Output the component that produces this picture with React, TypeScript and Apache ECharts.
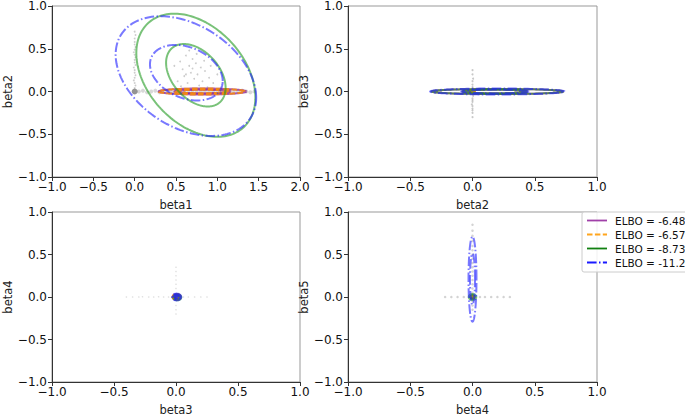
import React, { useEffect, useRef } from "react";
import * as echarts from "echarts";

// ---- data ----
const MODEL_LABELS = ["ELBO = -6.48", "ELBO = -6.57", "ELBO = -8.73", "ELBO = -11.2"];
const X_NAMES = ["beta1", "beta2", "beta3", "beta4"];
const Y_NAMES = ["beta2", "beta3", "beta4", "beta5"];
const X_MIN = [-1, -1, -1, -1];
const X_MAX = [2, 1, 1, 1];
const Y_MIN = -1;
const Y_MAX = 1;
const TICK_STEP = 0.5;

// contour ellipses: [panel, centerX, centerY, halfWidthX, halfWidthY, correlation]
const purpleEllipses = [
  [0, 0.82, 0.0, 0.53, 0.035, 0],
  [0, 0.82, 0.0, 0.34, 0.02, 0],
  [1, 0.2, 0.0, 0.53, 0.03, 0],
  [1, 0.18, 0.0, 0.26, 0.02, 0],
  [2, 0.005, 0.0, 0.032, 0.035, 0],
  [2, 0.005, 0.0, 0.016, 0.018, 0],
  [3, 0.0, 0.0, 0.015, 0.015, 0],
];
const orangeEllipses = [
  [0, 0.81, 0.0, 0.52, 0.035, 0],
  [0, 0.81, 0.0, 0.33, 0.02, 0],
  [1, 0.0, 0.0, 0.02, 0.015, 0],
  [2, 0.005, 0.0, 0.032, 0.035, 0],
  [2, 0.005, 0.0, 0.016, 0.018, 0],
  [3, 0.0, 0.0, 0.015, 0.015, 0],
];
const greenEllipses = [
  [0, 0.74, 0.19, 0.72, 0.72, -0.36],
  [0, 0.74, 0.19, 0.36, 0.365, -0.4],
  [1, 0.2, 0.0, 0.53, 0.03, 0],
  [1, 0.18, 0.0, 0.26, 0.02, 0],
  [2, 0.01, -0.004, 0.032, 0.035, 0],
  [2, 0.01, -0.004, 0.016, 0.018, 0],
  [3, 0.0, 0.0, 0.03, 0.035, 0],
  [3, 0.0, 0.0, 0.015, 0.018, 0],
];
const blueEllipses = [
  [0, 0.62, 0.18, 0.85, 0.7, -0.36],
  [0, 0.625, 0.22, 0.44, 0.325, -0.3],
  [1, 0.2, 0.0, 0.54, 0.035, 0],
  [1, 0.18, 0.0, 0.27, 0.022, 0],
  [2, 0.005, 0.0, 0.037, 0.04, 0],
  [2, 0.005, 0.0, 0.027, 0.029, 0],
  [2, 0.005, 0.0, 0.016, 0.018, 0],
  [2, 0.005, 0.0, 0.007, 0.008, 0],
  [3, 0.0, 0.21, 0.032, 0.5, 0],
  [3, 0.0, 0.21, 0.02, 0.3, 0],
];

// posterior samples (gray dots)
const samplesP1 = [
  [0.0, 0.04], [0.01, 0.07], [0.0, 0.1], [-0.01, 0.13], [0.0, 0.16], [0.01, 0.19], [0.0, 0.22], [0.0, 0.25],
  [-0.01, 0.28], [0.01, 0.31], [0.0, 0.34], [0.0, 0.37], [0.01, 0.4], [0.0, 0.43], [-0.01, 0.46], [0.0, 0.49],
  [0.01, 0.52], [0.0, 0.55], [0.0, 0.58], [0.0, 0.62], [0.01, 0.66], [0.0, 0.7],
  [0.62, 0.42], [0.7, 0.38], [0.55, 0.35], [0.66, 0.3], [0.74, 0.33], [0.8, 0.28], [0.58, 0.26], [0.68, 0.22],
  [0.76, 0.2], [0.85, 0.24], [0.6, 0.18], [0.72, 0.15], [0.82, 0.12], [0.9, 0.16], [0.64, 0.1], [0.78, 0.07],
  [0.88, 0.05], [0.52, 0.12], [0.7, 0.27], [0.62, 0.2], [0.95, 0.1], [0.56, 0.06], [0.84, 0.36], [0.75, 0.44],
  [0.48, 0.3], [0.92, 0.3], [0.66, 0.48], [1.0, 0.2],
];
const bandP1 = [
  [0.05, 0.0], [0.1, 0.01], [0.15, -0.01], [0.2, 0.0], [0.25, 0.01], [0.3, -0.01], [0.35, 0.0], [0.4, 0.01],
  [0.45, -0.01], [0.5, 0.0], [0.55, 0.01], [0.6, -0.01], [0.65, 0.0], [0.7, 0.01], [0.75, -0.01], [0.8, 0.0],
  [0.85, 0.01], [0.9, -0.01], [0.95, 0.0], [1.0, 0.01], [1.05, -0.01], [1.1, 0.0], [1.15, 0.01], [1.2, -0.01],
  [1.25, 0.0], [1.3, 0.01], [1.35, 0.0], [1.4, -0.01], [1.45, 0.0],
];
const samplesP2 = [
  [0, 0.25], [0, 0.2], [0.005, 0.15], [0, 0.12], [0, 0.08], [0, 0.05], [0, 0.03], [0, -0.02], [0.005, -0.05],
  [0, -0.08], [0, -0.1], [0, -0.12], [-0.005, -0.15], [0, -0.17], [0, -0.2], [0, -0.22], [0, -0.25], [0, -0.3],
];
const samplesP3 = [
  [-0.4, 0], [-0.35, 0], [-0.3, 0], [-0.27, 0.003], [-0.22, 0], [-0.18, 0], [-0.14, 0.003], [-0.1, 0], [-0.06, 0],
  [0.06, 0], [0.1, 0], [0.15, 0], [0.2, 0], [0.25, 0],
  [0, 0.35], [0, 0.3], [0, 0.25], [0, 0.2], [0, 0.15], [0, 0.1], [0, -0.1], [0, -0.15], [0, -0.2],
];
const samplesP4 = [
  [-0.22, 0], [-0.17, 0], [-0.12, 0], [-0.07, 0], [0.06, 0], [0.1, 0], [0.15, 0], [0.2, 0], [0.25, 0], [0.3, 0],
  [0, 0.85], [0, 0.78], [0, 0.72], [0, 0.66], [0, 0.6], [0, 0.55], [0, 0.5], [0, 0.45], [0, 0.4], [0, 0.35],
  [0, 0.3], [0, 0.25], [0, 0.2], [0, 0.15], [0, 0.1], [0, 0.05], [0, -0.05], [0, -0.1], [0, -0.15],
];
const modeP = [[0, 0]];

// ---- styles ----
const FONT = "DejaVu Sans";
const GRIDS = [
  { left: 52, top: 5, width: 248, height: 172 },
  { left: 348, top: 5, width: 249, height: 172 },
  { left: 52, top: 212, width: 248, height: 171 },
  { left: 348, top: 212, width: 249, height: 171 },
];
const MODEL_STYLES = [
  { color: "#800080", dash: null as number[] | null, opacity: 0.65, legend: "#a040a8" },
  { color: "#ff9000", dash: [5.5, 2.4], opacity: 0.8, legend: "#ffa51e" },
  { color: "#1f9a1f", dash: null, opacity: 0.6, legend: "#118011" },
  { color: "#2020ff", dash: [9.6, 2.4, 1.5, 2.4], opacity: 0.6, legend: "#1a1aff" },
];

function fmt(v: number) {
  if (Math.abs(v) < 1e-9) return "0.0";
  return (v < 0 ? "\u2212" : "") + Math.abs(v).toFixed(1);
}

function ellipseSeries(list: number[][], modelIdx: number, panel: number) {
  const st = MODEL_STYLES[modelIdx];
  return {
    type: "custom",
    name: MODEL_LABELS[modelIdx],
    xAxisIndex: panel,
    yAxisIndex: panel,
    silent: true,
    z: 5 + modelIdx,
    clip: true,
    encode: { x: 0, y: 1 },
    data: list.filter((e) => e[0] === panel).map((e) => e.slice(1)),
    renderItem: (params: any, api: any) => {
      const cx = api.value(0), cy = api.value(1), sx = api.value(2), sy = api.value(3), rho = api.value(4);
      const k = Math.sqrt(1 - rho * rho);
      const pts: number[][] = [];
      const N = 160;
      for (let i = 0; i <= N; i++) {
        const t = (i / N) * Math.PI * 2;
        pts.push(api.coord([cx + sx * Math.cos(t), cy + sy * (rho * Math.cos(t) + k * Math.sin(t))]));
      }
      return {
        type: "polyline",
        shape: { points: pts },
        style: {
          fill: null,
          stroke: st.color,
          lineWidth: 2,
          lineDash: st.dash || undefined,
          opacity: st.opacity,
        },
      };
    },
  };
}

function scatter(data: number[][], panel: number, size: number, color: string, opacity: number, z = 2) {
  return {
    type: "scatter",
    xAxisIndex: panel,
    yAxisIndex: panel,
    silent: true,
    symbolSize: size,
    z,
    itemStyle: { color, opacity },
    data,
  };
}

export default function App() {
  const ref = useRef<HTMLDivElement>(null);
  useEffect(() => {
    if (!ref.current) return;
    const chart = echarts.init(ref.current, null, { renderer: "svg" });
    const xAxis = GRIDS.map((_, i) => ({
      type: "value",
      gridIndex: i,
      min: X_MIN[i],
      max: X_MAX[i],
      interval: TICK_STEP,
      name: X_NAMES[i],
      nameLocation: "middle",
      nameGap: 22,
      nameTextStyle: { fontFamily: FONT, fontSize: 11.5, color: "#222" },
      axisLine: { show: true, onZero: false, lineStyle: { color: "#333", width: 1 } },
      axisTick: { show: true, inside: false, length: 4, lineStyle: { color: "#333" } },
      axisLabel: { formatter: fmt, fontFamily: FONT, fontSize: 12, color: "#111", margin: 4 },
      splitLine: { show: false },
    }));
    const yAxis = GRIDS.map((_, i) => ({
      type: "value",
      gridIndex: i,
      min: Y_MIN,
      max: Y_MAX,
      interval: TICK_STEP,
      name: Y_NAMES[i],
      nameLocation: "middle",
      nameGap: 37,
      nameRotate: 90,
      nameTextStyle: { fontFamily: FONT, fontSize: 11.5, color: "#222" },
      axisLine: { show: true, onZero: false, lineStyle: { color: "#333", width: 1 } },
      axisTick: { show: true, inside: false, length: 4, lineStyle: { color: "#333" } },
      axisLabel: { formatter: fmt, fontFamily: FONT, fontSize: 12, color: "#111", margin: 5 },
      splitLine: { show: false },
    }));

    const series: any[] = [];
    series.push(scatter(bandP1, 0, 4, "#b8b8b8", 0.55, 2));
    series.push(scatter(samplesP1, 0, 1.8, "#aaa", 0.6, 2));
    series.push(scatter(samplesP2, 1, 2, "#b0b0b0", 0.7, 2));
    series.push(scatter(samplesP3, 2, 1.5, "#ccc", 0.6, 2));
    series.push(scatter(samplesP4, 3, 2.5, "#c0c0c0", 0.7, 2));
    for (let p = 0; p < 4; p++) series.push(scatter(modeP, p, 6, "#666", 0.7, 3));
    const lists = [purpleEllipses, orangeEllipses, greenEllipses, blueEllipses];
    for (let m = 0; m < 4; m++) for (let p = 0; p < 4; p++) series.push(ellipseSeries(lists[m], m, p));

    const lx = 582, ly = 212;
    const legendGraphics: any[] = [
      {
        type: "rect",
        shape: { x: lx, y: ly, width: 110, height: 60, r: 2 },
        style: { fill: "rgba(255,255,255,0.85)", stroke: "#ccc", lineWidth: 1 },
        z: 50,
      },
    ];
    MODEL_LABELS.forEach((label, i) => {
      const y = ly + 8.5 + i * 14;
      const st = MODEL_STYLES[i];
      legendGraphics.push({
        type: "line",
        shape: { x1: lx + 5, y1: y, x2: lx + 25, y2: y },
        style: { stroke: st.legend, lineWidth: 1.8, lineDash: st.dash || undefined },
        z: 51,
      });
      legendGraphics.push({
        type: "text",
        x: lx + 33,
        y,
        style: { text: label, fontFamily: FONT, fontSize: 10.5, fill: "#111", verticalAlign: "middle", align: "left" },
        z: 51,
      });
    });

    chart.setOption({
      animation: false,
      backgroundColor: "#fff",
      grid: GRIDS.map((g) => ({ ...g, show: true, borderColor: "#999", borderWidth: 1, backgroundColor: "transparent" })),
      xAxis,
      yAxis,
      series,
      graphic: legendGraphics,
    });
    return () => chart.dispose();
  }, []);
  return <div ref={ref} style={{ position: "fixed", left: 0, top: 0, width: 685, height: 417, background: "#fff" }} />;
}
